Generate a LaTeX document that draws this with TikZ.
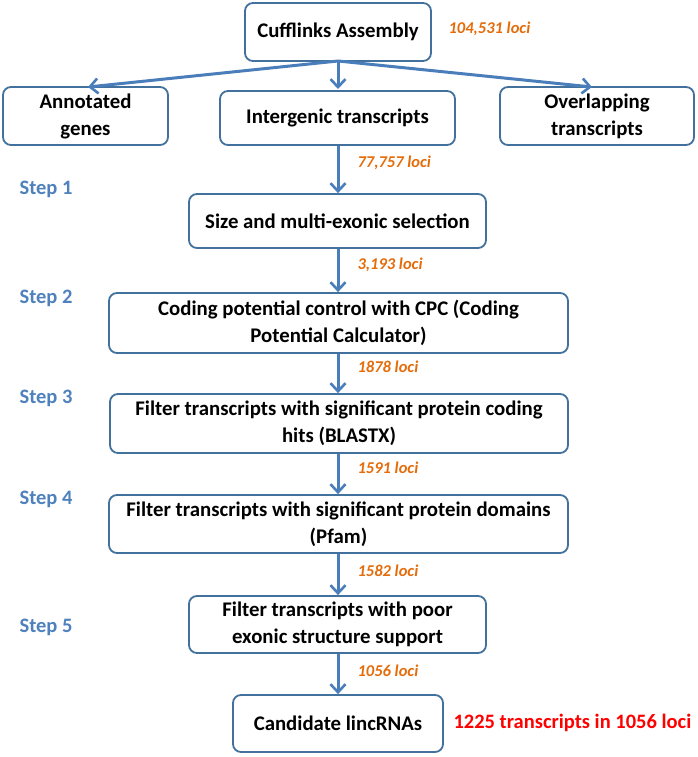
\documentclass[tikz,border=0pt]{standalone}
\usepackage{fontspec}
\setmainfont{Carlito}
\usetikzlibrary{arrows.meta}
\definecolor{boxblue}{RGB}{65,113,156}
\definecolor{arrblue}{RGB}{74,126,187}
\definecolor{stepblue}{RGB}{79,129,189}
\definecolor{lociorange}{RGB}{228,108,10}
\tikzset{
  box/.style={draw=boxblue, line width=1.8pt, rounded corners=8pt, fill=white, align=center, font=\bfseries\fontsize{20.8}{27}\selectfont, inner sep=0pt},
  arr/.style={draw=arrblue, line width=3pt, -{Straight Barb[length=8pt,width=15pt,line width=2.6pt]}},
  loci/.style={text=lociorange, font=\bfseries\itshape\fontsize{16.5}{19}\selectfont, anchor=west},
  steplab/.style={text=stepblue, font=\bfseries\fontsize{20.5}{24}\selectfont},
}
\begin{document}
\begin{tikzpicture}[x=1pt,y=-1pt]
\useasboundingbox (0,0) rectangle (697,757);
\node[box, minimum width=186pt, minimum height=58pt] (cuff) at (338,32) {Cufflinks Assembly};
\node[box, minimum width=165pt, minimum height=58pt] (ann) at (85.5,116) {Annotated\\genes};
\node[box, minimum width=235pt, minimum height=54pt] (inter) at (337.5,118) {Intergenic transcripts};
\node[box, minimum width=194pt, minimum height=58pt] (over) at (597,116) {Overlapping\\transcripts};
\node[box, minimum width=297pt, minimum height=54pt] (size) at (337.5,221) {Size and multi-exonic selection};
\node[box, minimum width=459pt, minimum height=60pt] (cpc) at (338.5,323) {Coding potential control with CPC (Coding\\Potential Calculator)};
\node[box, minimum width=458pt, minimum height=59pt] (blast) at (339,423.5) {Filter transcripts with significant protein coding\\hits (BLASTX)};
\node[box, minimum width=459pt, minimum height=58pt] (pfam) at (338.5,524) {Filter transcripts with significant protein domains\\(Pfam)};
\node[box, minimum width=297pt, minimum height=57pt] (poor) at (337.5,624.5) {Filter transcripts with poor\\exonic structure support};
\node[box, minimum width=210pt, minimum height=57pt] (cand) at (338,723.5) {Candidate lincRNAs};

\coordinate (cb) at (338,61);
\draw[arr] (cb) -- (88,87);
\draw[arr] (cb) -- (338,89);
\draw[arr] (cb) -- (592,87);
\draw[arr] (inter.south -| 338,0) -- (size.north -| 338,0);
\draw[arr] (size.south -| 338,0) -- (cpc.north -| 338,0);
\draw[arr] (cpc.south -| 338,0) -- (blast.north -| 338,0);
\draw[arr] (blast.south -| 338,0) -- (pfam.north -| 338,0);
\draw[arr] (pfam.south -| 338,0) -- (poor.north -| 338,0);
\draw[arr] (poor.south -| 338,0) -- (cand.north -| 338,0);

\node[loci] (l0) at (445,29) {104,531 loci};
\node[loci] (l1) at (354,163) {77,757 loci};
\node[loci] (l2) at (354,265) {3,193 loci};
\node[loci] (l3) at (354,367) {1878 loci};
\node[loci] (l4) at (354,468) {1591 loci};
\node[loci] (l5) at (354,571) {1582 loci};
\node[loci] (l6) at (354,671) {1056 loci};

\node[steplab] (s1) at (46,189) {Step 1};
\node[steplab] (s2) at (46,298) {Step 2};
\node[steplab] (s3) at (46,398) {Step 3};
\node[steplab] (s4) at (46,499) {Step 4};
\node[steplab] (s5) at (46,627) {Step 5};

\node[text=red, font=\bfseries\fontsize{20.5}{24}\selectfont, anchor=west] (res) at (450,723) {1225 transcripts in 1056 loci};
\end{tikzpicture}
\end{document}
